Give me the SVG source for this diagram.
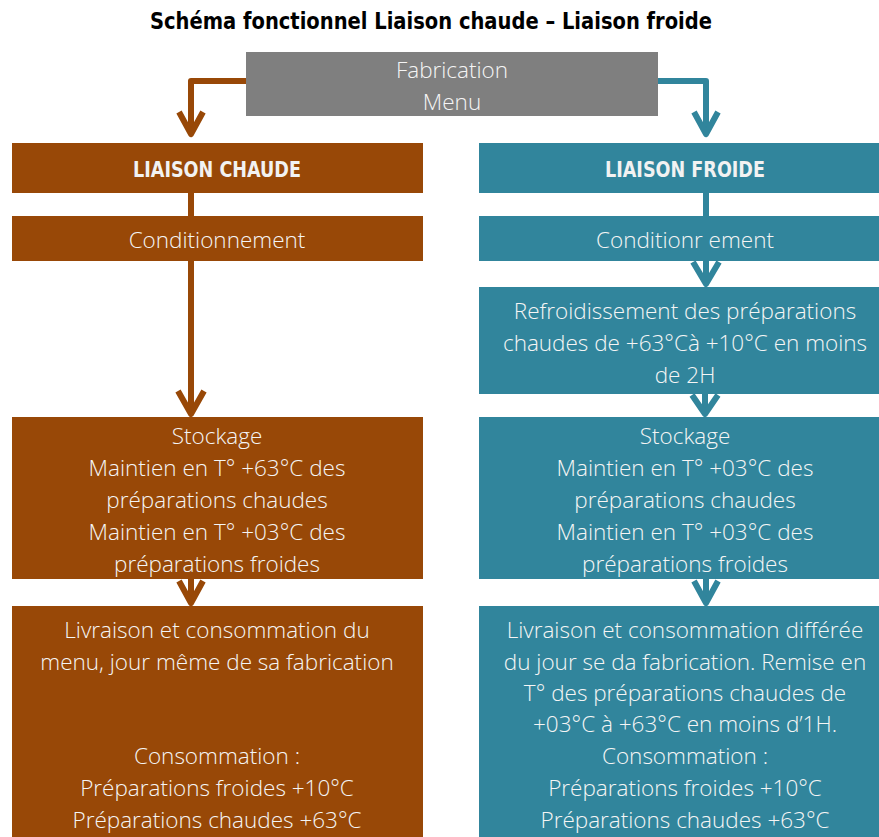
<svg xmlns="http://www.w3.org/2000/svg" width="879" height="837" viewBox="0 0 879 837">
<style>
.title{font-family:"Liberation Sans Narrow","DejaVu Sans Condensed","Liberation Sans",sans-serif;font-weight:bold;font-size:23px;fill:#000}
.hdr{font-family:"Liberation Sans Narrow","DejaVu Sans Condensed","Liberation Sans",sans-serif;font-weight:bold;font-size:21px;fill:#F2F2F2}
.t{font-family:"Open Sans","Noto Sans","Liberation Sans",sans-serif;font-weight:300;font-size:22.5px;fill:#F5F5F5;text-anchor:middle}
.or{fill:#984807}
.aq{fill:#31859C}
.gr{fill:#7F7F7F}
.lo{stroke:#984807;stroke-width:6;fill:none;stroke-linejoin:round}
.la{stroke:#31859C;stroke-width:6;fill:none;stroke-linejoin:round}
</style>
<rect width="879" height="837" fill="#fff"/>
<text class="title" x="431" y="29" text-anchor="middle" textLength="562" lengthAdjust="spacingAndGlyphs">Schéma fonctionnel Liaison chaude – Liaison froide</text>

<g id="connectors">
  <path class="lo" d="M247 81 H191 V134"/>
  <path class="lo" d="M179 112 L191 134 L203 112"/>
  <path class="la" d="M657 81 H706 V134"/>
  <path class="la" d="M694 112 L706 134 L718 112"/>
  <path class="lo" d="M191 192 V217"/>
  <path class="lo" d="M191 260 V414"/>
  <path class="lo" d="M178 391 L191 414 L204 391"/>
  <path class="lo" d="M191 578 V603"/>
  <path class="lo" d="M179 581 L191 603 L203 581"/>
  <path class="la" d="M706 192 V217"/>
  <path class="la" d="M706 260 V284"/>
  <path class="la" d="M693 262 L706 284 L719 262"/>
  <path class="la" d="M705 393 V414"/>
  <path class="la" d="M692 395 L705 414 L718 395"/>
  <path class="la" d="M706 578 V603"/>
  <path class="la" d="M694 581 L706 603 L718 581"/>
</g>

<g id="fabrication">
  <rect class="gr" x="246" y="52" width="412" height="64"/>
  <text class="t" x="452" y="78">Fabrication</text>
  <text class="t" x="452" y="110">Menu</text>
</g>

<g id="liaison-chaude">
  <rect class="or" x="12" y="143" width="411" height="50"/>
  <text class="hdr" x="217" y="177" text-anchor="middle" textLength="168" lengthAdjust="spacingAndGlyphs">LIAISON CHAUDE</text>
</g>
<g id="liaison-froide">
  <rect class="aq" x="479" y="143" width="400" height="50"/>
  <text class="hdr" x="685" y="177" text-anchor="middle" textLength="160" lengthAdjust="spacingAndGlyphs">LIAISON FROIDE</text>
</g>

<g id="cond-chaude">
  <rect class="or" x="12" y="216" width="411" height="45"/>
  <text class="t" x="217" y="248">Conditionnement</text>
</g>
<g id="cond-froide">
  <rect class="aq" x="479" y="216" width="400" height="45"/>
  <text class="t" x="685" y="248">Conditionr ement</text>
</g>

<g id="refroidissement">
  <rect class="aq" x="479" y="287" width="400" height="107"/>
  <text class="t" x="685" y="319">Refroidissement des préparations</text>
  <text class="t" x="685" y="351">chaudes de +63°Cà +10°C en moins</text>
  <text class="t" x="685" y="383">de 2H</text>
</g>

<g id="stockage-chaude">
  <rect class="or" x="12" y="417" width="411" height="162"/>
  <text class="t" x="217" y="444">Stockage</text>
  <text class="t" x="217" y="476">Maintien en T° +63°C des</text>
  <text class="t" x="217" y="508">préparations chaudes</text>
  <text class="t" x="217" y="540">Maintien en T° +03°C des</text>
  <text class="t" x="217" y="572">préparations froides</text>
</g>
<g id="stockage-froide">
  <rect class="aq" x="479" y="417" width="400" height="162"/>
  <text class="t" x="685" y="444">Stockage</text>
  <text class="t" x="685" y="476">Maintien en T° +03°C des</text>
  <text class="t" x="685" y="508">préparations chaudes</text>
  <text class="t" x="685" y="540">Maintien en T° +03°C des</text>
  <text class="t" x="685" y="572">préparations froides</text>
</g>

<g id="livraison-chaude">
  <rect class="or" x="12" y="606" width="411" height="231"/>
  <text class="t" x="217" y="638">Livraison et consommation du</text>
  <text class="t" x="217" y="670">menu, jour même de sa fabrication</text>
  <text class="t" x="217" y="764">Consommation :</text>
  <text class="t" x="217" y="796">Préparations froides +10°C</text>
  <text class="t" x="217" y="828">Préparations chaudes +63°C</text>
</g>
<g id="livraison-froide">
  <rect class="aq" x="479" y="606" width="400" height="231"/>
  <text class="t" x="685" y="638">Livraison et consommation différée</text>
  <text class="t" x="685" y="670">du jour se da fabrication. Remise en</text>
  <text class="t" x="685" y="701">T° des préparations chaudes de</text>
  <text class="t" x="685" y="732">+03°C à +63°C en moins d’1H.</text>
  <text class="t" x="685" y="764">Consommation :</text>
  <text class="t" x="685" y="796">Préparations froides +10°C</text>
  <text class="t" x="685" y="828">Préparations chaudes +63°C</text>
</g>
</svg>
